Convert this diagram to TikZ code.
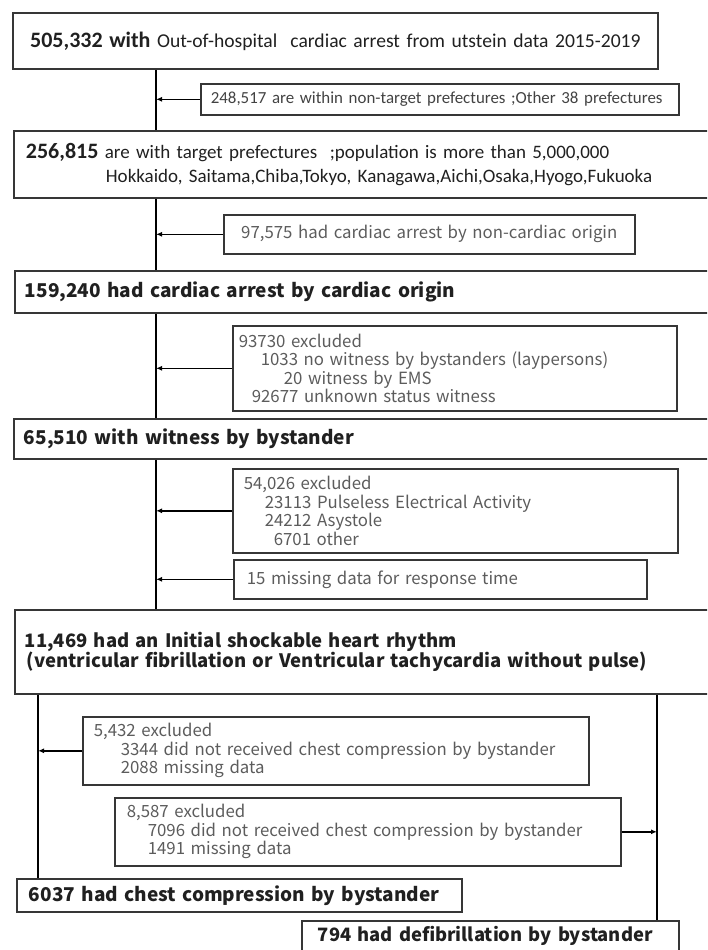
\documentclass[tikz,border=0pt]{standalone}
\usepackage{fontspec}
\setmainfont{Carlito}
\newfontfamily\gothic{Noto Sans CJK JP}
\usetikzlibrary{arrows.meta}

\definecolor{boxline}{HTML}{363636}
\definecolor{greytext}{HTML}{5C5C5C}
\definecolor{darktext}{HTML}{202020}

\tikzset{
  stage/.style={draw=boxline, line width=1.8pt, anchor=north west, align=left,
    inner xsep=10pt, inner ysep=0pt, text=darktext,
    font=\gothic\bfseries\fontsize{19}{19}\selectfont},
  excl/.style={draw=boxline, line width=1.6pt, anchor=north west, align=left,
    inner ysep=0pt, text=greytext,
    font=\gothic\fontsize{16.8}{18.5}\selectfont},
  trunkline/.style={line width=2pt, black},
  cut/.style={line width=1.6pt, black, -{Latex[length=6pt,width=5pt]}},
}

\begin{document}
\begin{tikzpicture}[x=1pt, y=-1pt]
    \useasboundingbox (0,0) rectangle (707,950);
    \clip (0,0) rectangle (707,950);

    % Main stages
    \node[stage, align=center, minimum width=645, minimum height=56, text width=625,
      font=\fontsize{19.6}{22}\selectfont] (b1) at (12,12)
      {{\bfseries\fontsize{22}{22}\selectfont 505,332 with} Out-of-hospital\ \ cardiac arrest from utstein data 2015-2019};
    \node[stage, minimum width=710, minimum height=67, text width=686, inner xsep=12pt,
      font=\fontsize{19}{24}\selectfont] (b2) at (13,130)
      {{\bfseries\fontsize{22}{22}\selectfont 256,815} are with target prefectures\ \ ;population is more than 5,000,000\\
       \hspace*{80pt}Hokkaido, Saitama,Chiba,Tokyo,\ Kanagawa,Aichi,Osaka,Hyogo,Fukuoka};
    \node[stage, minimum width=710, minimum height=42, text width=690] (b3) at (14,270)
      {159,240 had cardiac arrest by cardiac origin};
    \node[stage, minimum width=710, minimum height=40, text width=690] (b4) at (13,418)
      {65,510 with witness by bystander};
    \node[stage, minimum width=710, minimum height=84, text width=690, inner xsep=7pt,
      font=\gothic\bfseries\fontsize{18.5}{20}\selectfont] (b5) at (14,609)
      {11,469 had an Initial shockable heart rhythm\\
       \hspace*{2pt}(ventricular fibrillation or Ventricular tachycardia without pulse)};
    \node[stage, minimum width=445, minimum height=33, text width=427, inner xsep=9pt,
      font=\gothic\bfseries\fontsize{19}{20}\selectfont] (b6) at (16,878)
      {\hspace*{3pt}6037 had chest compression by bystander};
    \node[stage, minimum width=377, minimum height=40, text width=359, inner xsep=9pt,
      text height=14pt, text depth=12pt,
      font=\gothic\bfseries\fontsize{18.4}{20}\selectfont] (b7) at (301,920)
      {\hspace*{7pt}794 had defibrillation by bystander};

    % Exclusions
    \node[excl, minimum width=478, minimum height=31, text width=458, inner xsep=10pt,
      text=darktext!85, font=\fontsize{16.9}{18}\selectfont] (xa) at (200,83)
      {248,517 are within non-target prefectures ;Other 38 prefectures};
    \node[excl, align=center, minimum width=411, minimum height=39, text width=391] (xb) at (223,214)
      {97,575 had cardiac arrest by non-cardiac origin};
    \node[excl, minimum width=444, minimum height=85, text width=432, inner xsep=6pt] (xc) at (232,325)
      {93730 excluded\\
       \hspace*{22pt}1033 no witness by bystanders (laypersons)\\
       \hspace*{45pt}20 witness by EMS\\
       \hspace*{13pt}92677 unknown status witness};
    \node[excl, minimum width=445, minimum height=84, text width=423, inner xsep=11pt] (xd) at (232,468)
      {54,026 excluded\\
       \hspace*{21pt}23113 Pulseless Electrical Activity\\
       \hspace*{21pt}24212 Asystole\\
       \hspace*{30pt}6701 other};
    \node[excl, minimum width=413, minimum height=39, text width=387, inner xsep=13pt] (xe) at (233,559)
      {15 missing data for response time};
    \node[excl, minimum width=506, minimum height=68, text width=484, inner xsep=11pt] (xf) at (82,716)
      {5,432 excluded\\
       \hspace*{27pt}3344 did not received chest compression by bystander\\
       \hspace*{27pt}2088 missing data};
    \node[excl, minimum width=506, minimum height=68, text width=482, inner xsep=12pt] (xg) at (114,797)
      {8,587 excluded\\
       \hspace*{21pt}7096 did not received chest compression by bystander\\
       \hspace*{21pt}1491 missing data};

    % Trunks
    \coordinate (trunk) at (156,0);
    \coordinate (lefttrunk) at (38,0);
    \coordinate (righttrunk) at (657,0);

    \draw[trunkline] (b1.south -| trunk) -- (b2.north -| trunk);
    \draw[trunkline] (b2.south -| trunk) -- (b3.north -| trunk);
    \draw[trunkline] (b3.south -| trunk) -- (b4.north -| trunk);
    \draw[trunkline] (b4.south -| trunk) -- (b5.north -| trunk);
    \draw[trunkline] (b5.south -| lefttrunk) -- (b6.north -| lefttrunk);
    \draw[trunkline] (b5.south -| righttrunk) -- (b7.north -| righttrunk);

    % Arrows
    \draw[cut] (xa.west) -- (xa.west -| trunk);
    \draw[cut] (xb.west) -- (xb.west -| trunk);
    \draw[cut] (xc.west) -- (xc.west -| trunk);
    \draw[cut] (xd.west) -- (xd.west -| trunk);
    \draw[cut] (xe.west) -- (xe.west -| trunk);
    \draw[cut] (xf.west) -- (xf.west -| lefttrunk);
    \draw[cut] (xg.east) -- (xg.east -| righttrunk);
\end{tikzpicture}
\end{document}
